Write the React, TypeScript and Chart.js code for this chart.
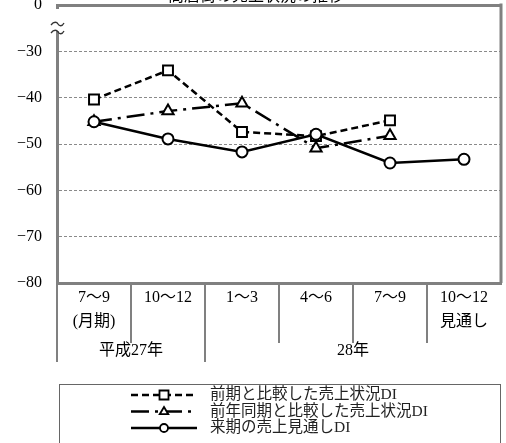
import React, { useEffect, useRef } from 'react';
import { Chart, registerables } from 'chart.js';

Chart.register(...registerables);

// ---- data ----
const categories: string[][] = [
  ['7〜9', '(月期)'],
  ['10〜12'],
  ['1〜3'],
  ['4〜6'],
  ['7〜9'],
  ['10〜12', '見通し'],
];
const yearGroups = ['平成27年', '28年'];
const yearGroupSpans = [2, 4];
const seriesNames = [
  '前期と比較した売上状況DI',
  '前年同期と比較した売上状況DI',
  '来期の売上見通しDI',
];
const prevPeriodDI = [-40.4, -34.1, -47.4, -48.3, -44.9, null];
const prevYearDI = [-45.2, -42.9, -41.2, -50.9, -48.2, null];
const outlookDI = [-45.2, -48.9, -51.7, -47.9, -54.1, -53.3];
const yTickValues = [-80, -70, -60, -50, -40, -30, -20];
const yTickLabels = ['−80', '−70', '−60', '−50', '−40', '−30', '0'];
const titleText = '商店街の売上状況の推移';

const SERIF = "'Liberation Serif', 'Noto Sans CJK JP', serif";
const GRAY = '#808080';

function drawMarker(ctx: CanvasRenderingContext2D, style: string, x: number, y: number, r: number) {
  ctx.beginPath();
  if (style === 'rect') {
    ctx.rect(x - r, y - r, 2 * r, 2 * r);
  } else if (style === 'triangle') {
    ctx.moveTo(x, y - r);
    ctx.lineTo(x + r * 0.95, y + r * 0.6);
    ctx.lineTo(x - r * 0.95, y + r * 0.6);
    ctx.closePath();
  } else {
    ctx.arc(x, y, r, 0, Math.PI * 2);
  }
  ctx.fillStyle = '#fff';
  ctx.fill();
  ctx.stroke();
}

const decorPlugin = {
  id: 'decor',
  afterDraw(chart: any) {
    const { ctx, chartArea: ca } = chart;
    const x = chart.scales.x;
    ctx.save();

    // right frame border
    ctx.strokeStyle = GRAY;
    ctx.lineWidth = 3;
    ctx.setLineDash([]);
    ctx.beginPath();
    ctx.moveTo(ca.right, ca.top - 1.5);
    ctx.lineTo(ca.right, ca.bottom);
    ctx.stroke();

    // axis break symbol
    ctx.fillStyle = '#fff';
    ctx.fillRect(51, 9, 12, 22);
    ctx.strokeStyle = '#333';
    ctx.lineWidth = 1.3;
    [24, 32].forEach((cy) => {
      ctx.beginPath();
      ctx.moveTo(51, cy + 1);
      ctx.bezierCurveTo(54, cy - 3, 57, cy - 2, 58, cy);
      ctx.bezierCurveTo(59, cy + 2, 62, cy + 3, 64, cy - 1);
      ctx.stroke();
    });

    // category separators
    const n = x.ticks.length;
    const edges: number[] = [ca.left];
    for (let i = 1; i < n; i++) {
      edges.push((x.getPixelForTick(i - 1) + x.getPixelForTick(i)) / 2);
    }
    const groupEdges: number[] = [];
    let acc = 0;
    yearGroupSpans.forEach((s) => {
      groupEdges.push(acc);
      acc += s;
    });
    ctx.strokeStyle = GRAY;
    ctx.lineWidth = 2;
    edges.forEach((ex, i) => {
      const isGroup = groupEdges.includes(i);
      ctx.beginPath();
      ctx.moveTo(ex, ca.bottom);
      ctx.lineTo(ex, isGroup ? ca.bottom + 79 : ca.bottom + 60);
      ctx.stroke();
    });

    // group labels
    ctx.fillStyle = '#000';
    ctx.font = `16px ${SERIF}`;
    ctx.textAlign = 'center';
    ctx.textBaseline = 'middle';
    yearGroups.forEach((g, gi) => {
      const start = edges[groupEdges[gi]];
      const endIdx = groupEdges[gi] + yearGroupSpans[gi];
      const end = endIdx < edges.length ? edges[endIdx] : ca.right;
      ctx.fillText(g, (start + end) / 2, ca.bottom + 68);
    });

    // title (cut off at top)
    ctx.font = `16px 'Noto Sans CJK JP', sans-serif`;
    ctx.textBaseline = 'alphabetic';
    ctx.fillText(titleText, 256, 1);

    // legend box
    ctx.strokeStyle = '#666';
    ctx.lineWidth = 1;
    ctx.strokeRect(59.5, 384.5, 441, 100);

    chart.data.datasets.forEach((ds: any, i: number) => {
      const ly = 395 + i * 16.5;
      ctx.strokeStyle = '#000';
      ctx.lineWidth = 2.5;
      ctx.setLineDash(ds.borderDash || []);
      ctx.beginPath();
      ctx.moveTo(131, ly);
      ctx.lineTo(197, ly);
      ctx.stroke();
      ctx.setLineDash([]);
      ctx.lineWidth = 1.8;
      drawMarker(ctx, ds.pointStyle, 164, ly, ds.pointStyle === 'circle' ? 4 : 4.5);
      ctx.fillStyle = '#222';
      ctx.font = `15.5px ${SERIF}`;
      ctx.textAlign = 'left';
      ctx.textBaseline = 'middle';
      ctx.fillText(ds.label, 210, ly);
    });

    ctx.restore();
  },
};

export default function App() {
  const ref = useRef<HTMLCanvasElement | null>(null);

  useEffect(() => {
    if (!ref.current) return;
    const common = {
      borderColor: '#000',
      borderWidth: 2.5,
      pointBackgroundColor: '#fff',
      pointBorderColor: '#000',
      pointBorderWidth: 2,
      tension: 0,
      fill: false,
    };
    const chart = new Chart(ref.current, {
      type: 'line',
      data: {
        labels: categories,
        datasets: [
          {
            ...common,
            label: seriesNames[0],
            data: prevPeriodDI,
            borderDash: [7, 4],
            pointStyle: 'rect',
            pointRadius: 7,
            order: 2,
          },
          {
            ...common,
            label: seriesNames[1],
            data: prevYearDI,
            borderDash: [18, 6, 3, 6],
            pointStyle: 'triangle',
            pointRadius: 6.5,
            order: 1,
          },
          {
            ...common,
            label: seriesNames[2],
            data: outlookDI,
            borderDash: [],
            pointStyle: 'circle',
            pointRadius: 5.5,
            order: 0,
          },
        ] as any,
      },
      options: {
        animation: false,
        responsive: false,
        devicePixelRatio: 1,
        layout: { autoPadding: false, padding: { top: 5, right: 5, left: 0, bottom: 0 } },
        plugins: {
          legend: { display: false },
          title: { display: false },
          tooltip: { enabled: false },
        },
        scales: {
          x: {
            offset: true,
            afterFit: (s: any) => {
              s.height = 160;
              s.paddingLeft = 0;
              s.paddingRight = 0;
            },
            grid: { display: false, drawTicks: false },
            border: { display: true, color: GRAY, width: 3 },
            ticks: {
              padding: 3,
              color: '#000',
              autoSkip: false,
              maxRotation: 0,
              font: { family: SERIF, size: 16, lineHeight: 1.5 },
            },
          },
          y: {
            min: -80,
            max: -20,
            afterFit: (s: any) => {
              s.width = 57;
              s.paddingTop = 0;
              s.paddingBottom = 0;
            },
            afterBuildTicks: (s: any) => {
              s.ticks = yTickValues.map((v) => ({ value: v }));
            },
            ticks: {
              padding: 15,
              color: '#000',
              font: { family: SERIF, size: 16 },
              callback: (v: any) => {
                const idx = yTickValues.indexOf(Number(v));
                return idx >= 0 ? yTickLabels[idx] : '';
              },
            },
            grid: {
              drawTicks: false,
              color: (c: any) => (c.tick && c.tick.value === -20 ? GRAY : '#8a8a8a'),
              lineWidth: (c: any) => {
                if (!c.tick) return 1;
                if (c.tick.value === -20) return 3;
                if (c.tick.value === -80) return 0;
                return 1;
              },
            },
            border: {
              display: true,
              color: GRAY,
              width: 3,
              dash: (c: any) => (c.tick && c.tick.value !== -20 ? [3, 2] : []),
            },
          },
        },
      } as any,
      plugins: [decorPlugin],
    });
    return () => chart.destroy();
  }, []);

  return (
    <div style={{ position: 'absolute', left: 0, top: 0, width: 506, height: 443, background: '#fff' }}>
      <canvas ref={ref} width={506} height={443} style={{ display: 'block' }} />
    </div>
  );
}
